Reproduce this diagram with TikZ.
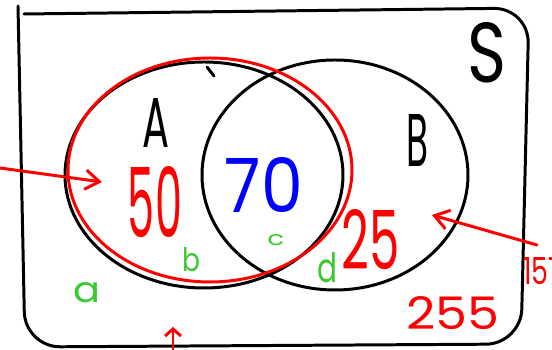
\documentclass[tikz,border=0pt]{standalone}
\usepackage{fontspec}
\usepackage{graphicx}
\setmainfont{Poppins}
\usetikzlibrary{arrows.meta}
\definecolor{pengreen}{RGB}{60,200,50}
\newlength\pxunit
\setlength\pxunit{0.02cm}
\newcommand{\scribble}[3]{\resizebox{#1\pxunit}{#2\pxunit}{#3}}

\begin{document}
\begin{tikzpicture}[x=0.02cm, y=-0.02cm, line cap=round, line join=round,
    blackpen/.style={draw=black, line width=1.7pt},
    redpen/.style={draw=red, line width=1.7pt},
    label/.style={inner sep=0pt},
    letter/.style={inner sep=0pt, text=pengreen},
    pointer/.style={redpen, -{Straight Barb[length=8pt, width=11pt]}}]
        \useasboundingbox (0,0) rectangle (552,350);
        % Sample space
        \draw[blackpen, rounded corners=20] (24,14) -- (529,8) -- (521,344) -- (25,347) -- (18,6);
        \node[label] (S) at (487,53) {\scribble{39}{60}{S}};

        % Sets
        \draw[blackpen] (204,175) ellipse [x radius=139, y radius=113];
        \draw[blackpen] (207,67) -- (214,76);
        \draw[blackpen] (335,175) ellipse [x radius=133, y radius=115];
        \draw[redpen] (210,170) ellipse [x radius=142, y radius=112];
        \node[label] (A) at (156,123) {\scribble{27}{49}{A}};
        \node[label] (B) at (417,141) {\scribble{22}{52}{B}};

        % Counts
        \node[label, text=red] (n50) at (155,202) {\scribble{54}{71}{50}};
        \node[label, text=blue] (n70) at (264,185) {\scribble{78}{55}{70}};
        \node[label, text=red] (n25) at (371,240) {\scribble{58}{60}{25}};
        \node[label, text=red] (n255) at (453,313) {\scribble{93}{33}{255}};
        \node[label, text=red, anchor=west] (n157) at (523,271) {\scribble{40}{27}{157}};

        % Regions
        \node[letter] (a) at (87,293) {\scribble{27}{20}{a}};
        \node[letter] (b) at (191,260) {\scribble{18}{24}{b}};
        \node[letter] (c) at (276,240) {\scribble{17}{11}{c}};
        \node[letter] (d) at (327,268) {\scribble{20}{30}{d}};

        % Pointers
        \coordinate (left) at (0,168);
        \coordinate (right) at (537,245);
        \coordinate (bottom) at (173,352);
        \draw[pointer] (left) -- (102,182);
        \draw[pointer] (right) -- (432,215);
        \draw[pointer, -{Straight Barb[length=4pt, width=9pt]}] (bottom) -- (173,327);
    \end{tikzpicture}
\end{document}
